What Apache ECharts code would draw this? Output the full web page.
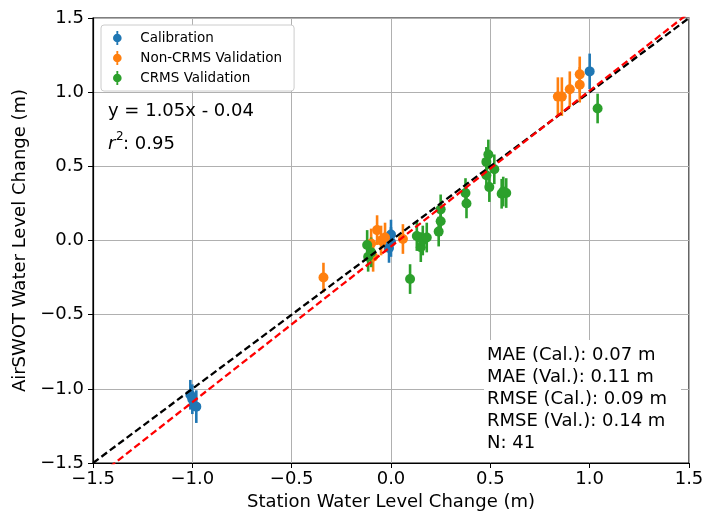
<!DOCTYPE html>
<html>
<head>
<meta charset="utf-8">
<script src="https://cdn.jsdelivr.net/npm/echarts@6/dist/echarts.min.js"></script>
<style>
  html, body { margin: 0; padding: 0; background: #fff; }
  #chart { width: 705px; height: 513px; }
</style>
</head>
<body>
<div id="chart"></div>
<script>
// 轴刻度
const axisTicks = [-1.5, -1.0, -0.5, 0.0, 0.5, 1.0, 1.5]

// Calibration 数据 (x, y, 误差)
const calX = [-1.01, -1.0, -0.98, 0.0, 0.0, -0.01, 1.0]
const calY = [-1.04, -1.07, -1.12, 0.04, -0.01, -0.05, 1.14]
const calErr = [0.1, 0.1, 0.11, 0.1, 0.1, 0.1, 0.12]

// Non-CRMS Validation
const nonX = [-0.34, -0.07, -0.1, -0.09, -0.05, -0.03, 0.06, 0.84, 0.86, 0.9, 0.95, 0.95]
const nonY = [-0.25, 0.07, -0.02, -0.11, 0.0, 0.02, 0.01, 0.97, 0.97, 1.02, 1.05, 1.12]
const nonErr = [0.1, 0.1, 0.1, 0.1, 0.1, 0.1, 0.1, 0.13, 0.13, 0.12, 0.12, 0.12]

// CRMS Validation
const crmsX = [-0.12, -0.115, -0.1, 0.096, 0.13, 0.15, 0.16, 0.18, 0.24, 0.25, 0.25,
  0.375, 0.38, 0.49, 0.48, 0.52, 0.48, 0.495, 0.557, 0.58, 0.565, 1.04]
const crmsY = [-0.03, -0.11, -0.08, -0.26, 0.03, -0.045, 0.0, 0.02, 0.06, 0.13, 0.21,
  0.32, 0.25, 0.58, 0.53, 0.48, 0.44, 0.36, 0.315, 0.32, 0.33, 0.89]
const crmsErr = [0.1, 0.1, 0.1, 0.1, 0.1, 0.1, 0.1, 0.1, 0.1, 0.1, 0.1,
  0.1, 0.1, 0.1, 0.1, 0.1, 0.1, 0.1, 0.1, 0.1, 0.1, 0.1]

// 回归线
const fitSlope = 1.05
const fitIntercept = -0.04

const statLines = ['MAE (Cal.): 0.07 m', 'MAE (Val.): 0.11 m', 'RMSE (Cal.): 0.09 m', 'RMSE (Val.): 0.14 m', 'N: 41']

const font = 'DejaVu Sans'
const fmt = v => v.toFixed(1).replace('-', '\u2212')

const zip = (xs, ys, es) => xs.map((x, i) => [x, ys[i], es[i]])

const errSeries = (name, color, xs, ys, es) => ({
  name: name,
  type: 'custom',
  z: 3,
  data: zip(xs, ys, es),
  renderItem: (params, api) => {
    const x = api.value(0), y = api.value(1), e = api.value(2)
    const p1 = api.coord([x, y - e])
    const p2 = api.coord([x, y + e])
    return {
      type: 'line',
      shape: { x1: p1[0], y1: p1[1], x2: p2[0], y2: p2[1] },
      style: { stroke: color, lineWidth: 2.6 }
    }
  }
})

const dotSeries = (name, color, xs, ys) => ({
  name: name,
  type: 'scatter',
  z: 4,
  symbolSize: 10,
  itemStyle: { color: color, opacity: 1 },
  data: xs.map((x, i) => [x, ys[i]])
})

const legendIcon = 'path://M4.2,0 L5.8,0 L5.8,12 L4.2,12 Z M1.3,6 A3.7,3.7 0 1 1 8.7,6 A3.7,3.7 0 1 1 1.3,6 Z'

const chart = echarts.init(document.getElementById('chart'))

const axisCommon = {
  type: 'value',
  min: -1.5,
  max: 1.5,
  interval: 0.5,
  nameLocation: 'middle',
  nameTextStyle: { fontFamily: font, fontSize: 18, color: '#000' },
  axisLine: { show: true, onZero: false, lineStyle: { color: '#000', width: 1.2 } },
  axisTick: { show: true, inside: false, length: 5, lineStyle: { color: '#000' } },
  axisLabel: { fontFamily: font, fontSize: 18, color: '#000', formatter: fmt },
  splitLine: { show: true, lineStyle: { color: '#b0b0b0', width: 1 } }
}

chart.setOption({
  animation: false,
  grid: {
    left: 93, top: 18, right: 16, bottom: 50,
    outerBoundsMode: 'none',
    containLabel: false,
    show: true, borderColor: '#000', borderWidth: 1.2, backgroundColor: 'transparent'
  },
  xAxis: Object.assign({}, axisCommon, {
    name: 'Station Water Level Change (m)',
    nameGap: 29,
    axisLabel: Object.assign({}, axisCommon.axisLabel, { margin: 7 })
  }),
  yAxis: Object.assign({}, axisCommon, {
    name: 'AirSWOT Water Level Change (m)',
    nameGap: 61,
    axisLabel: Object.assign({}, axisCommon.axisLabel, { margin: 9 })
  }),
  legend: {
    orient: 'vertical',
    left: 101,
    top: 25,
    padding: [6, 12, 6, 12],
    itemGap: 6,
    itemWidth: 10,
    itemHeight: 14,
    backgroundColor: '#fff',
    borderColor: '#cccccc',
    borderWidth: 1,
    borderRadius: 3,
    textStyle: { fontFamily: font, fontSize: 13.5, color: '#000', padding: [0, 0, 0, 13] },
    data: [
      { name: 'Calibration', icon: legendIcon },
      { name: 'Non-CRMS Validation', icon: legendIcon },
      { name: 'CRMS Validation', icon: legendIcon }
    ]
  },
  graphic: [
    {
      type: 'text', left: 108, top: 102, z: 10,
      style: { text: 'y = 1.05x - 0.04', font: '18px "DejaVu Sans"', fill: '#000' }
    },
    {
      type: 'text', left: 108, top: 135, z: 10,
      style: { text: 'r', font: 'italic 18px "DejaVu Sans"', fill: '#000' }
    },
    {
      type: 'text', left: 116, top: 131, z: 10,
      style: { text: '2', font: '12px "DejaVu Sans"', fill: '#000' }
    },
    {
      type: 'text', left: 123, top: 135, z: 10,
      style: { text: ': 0.95', font: '18px "DejaVu Sans"', fill: '#000' }
    },
    {
      type: 'rect', left: 484, top: 340, z: 9,
      shape: { width: 197, height: 122 },
      style: { fill: '#fff' }
    },
    {
      type: 'text', left: 487, top: 344, z: 10,
      style: {
        text: statLines.join('\n'),
        font: '18px "DejaVu Sans"',
        lineHeight: 22,
        fill: '#000'
      }
    }
  ],
  series: [
    errSeries('calErr', '#1f77b4', calX, calY, calErr),
    dotSeries('Calibration', '#1f77b4', calX, calY),
    errSeries('nonErr', '#ff7f0e', nonX, nonY, nonErr),
    dotSeries('Non-CRMS Validation', '#ff7f0e', nonX, nonY),
    errSeries('crmsErr', '#2ca02c', crmsX, crmsY, crmsErr),
    dotSeries('CRMS Validation', '#2ca02c', crmsX, crmsY),
    {
      name: '1:1',
      type: 'line',
      z: 5,
      symbol: 'none',
      clip: true,
      lineStyle: { color: '#000', width: 2.3, type: [7, 3.5] },
      data: [[axisTicks[0], axisTicks[0]], [axisTicks[6], axisTicks[6]]]
    },
    {
      name: 'fit',
      type: 'line',
      z: 6,
      symbol: 'none',
      clip: true,
      lineStyle: { color: '#ff0000', width: 2.3, type: [7, 3.5] },
      data: [axisTicks[0], axisTicks[6]].map(x => [x, fitSlope * x + fitIntercept])
    }
  ]
})
</script>
</body>
</html>
